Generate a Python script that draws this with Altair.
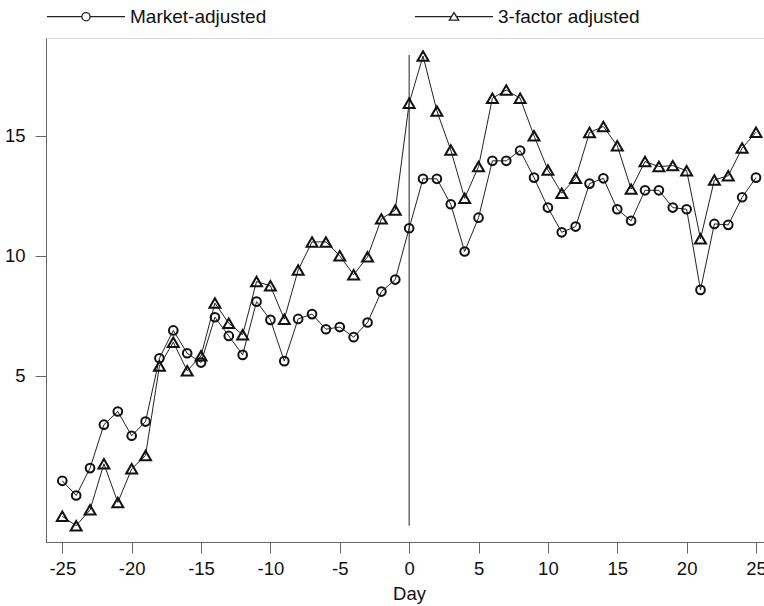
import altair as alt
import pandas as pd

days = list(range(-25, 26))
market_adjusted = [0.61, 0.0, 1.14, 2.95, 3.5, 2.49, 3.08, 5.72, 6.88, 5.93,
                   5.54, 7.43, 6.65, 5.86, 8.08, 7.32, 5.6, 7.36, 7.56, 6.93,
                   7.02, 6.6, 7.21, 8.5, 9.0,
                   11.14, 13.2, 13.2, 12.14, 10.17, 11.58, 13.95, 13.95, 14.38, 13.25,
                   12.0, 10.97, 11.21, 13.0, 13.22, 11.93, 11.45, 12.72, 12.72, 12.0,
                   11.93, 8.57, 11.32, 11.28, 12.43, 13.25]
three_factor = [-0.87, -1.26, -0.6, 1.32, -0.29, 1.11, 1.67, 5.4, 6.39, 5.2,
                5.82, 8.02, 7.18, 6.7, 8.92, 8.74, 7.35, 9.4, 10.57, 10.57,
                9.99, 9.2, 9.95, 11.53, 11.9,
                16.35, 18.32, 16.03, 14.4, 12.39, 13.71, 16.56, 16.9, 16.56, 15.0,
                13.57, 12.6, 13.22, 15.13, 15.38, 14.58, 12.77, 13.92, 13.71, 13.75,
                13.54, 10.7, 13.15, 13.33, 14.48, 15.14]
series_names = ["Market-adjusted", "3-factor adjusted"]
event_day = [0]
event_top = [18.36]
event_bottom = [-1.26]
x_ticks = [-25, -20, -15, -10, -5, 0, 5, 10, 15, 20, 25]
y_ticks = [5, 10, 15]

rows = []
for d, v in zip(days, market_adjusted):
    rows.append({"Day": d, "CAR": v, "Series": series_names[0]})
for d, v in zip(days, three_factor):
    rows.append({"Day": d, "CAR": v, "Series": series_names[1]})
df = pd.DataFrame(rows)
rule_df = pd.DataFrame({"Day": event_day, "top": event_top, "bottom": event_bottom})

FONT = "Liberation Sans, Arial, Helvetica, sans-serif"

xscale = alt.Scale(domain=[-26.175, 25.577], nice=False, zero=False)
yscale = alt.Scale(domain=[-1.94, 19.07], nice=False, zero=False)

xaxis = alt.Axis(values=x_ticks, tickSize=11, labelPadding=6, grid=False,
                 domainColor="#666666", tickColor="#666666", labelColor="#111111",
                 labelFont=FONT, labelFontSize=18.5, labelExpr="'' + datum.value",
                 title="Day", titleFont=FONT, titleFontSize=18.5, titleFontWeight="normal",
                 titleColor="#111111", titleX=363, titleY=42, titleAlign="center",
                 titleBaseline="top")
yaxis = alt.Axis(values=y_ticks, tickSize=11, labelPadding=10, grid=False,
                 domainColor="#666666", tickColor="#666666", labelColor="#111111",
                 labelFont=FONT, labelFontSize=18.5, title=None)

circle_path = ("M-1,0H-0.105M0.105,0H1"
               "M-0.105,0A0.105,0.105 0 1,0 0.105,0A0.105,0.105 0 1,0 -0.105,0Z")
tri_path = "M-1,0H-0.07M0.07,0H1M0,-0.105L0.12,0.09L-0.12,0.09Z"

legend = alt.Legend(
    title=None, orient="none", legendX=0, legendY=-61.3, direction="horizontal",
    symbolSize=6084, symbolStrokeWidth=1.3, symbolStrokeColor="#222222",
    symbolFillColor="transparent", symbolOpacity=1,
    labelFont=FONT, labelFontSize=19, labelColor="#111111", labelOffset=4,
    columnPadding=145, padding=0,
)

lines = alt.Chart(df).mark_line(color="#222222", strokeWidth=1).encode(
    x=alt.X("Day:Q", scale=xscale, axis=xaxis),
    y=alt.Y("CAR:Q", scale=yscale, axis=yaxis),
    detail="Series:N",
)

points = alt.Chart(df).mark_point(filled=False, color="#111111", strokeWidth=2, opacity=1).encode(
    x=alt.X("Day:Q", scale=xscale),
    y=alt.Y("CAR:Q", scale=yscale),
    shape=alt.Shape("Series:N", scale=alt.Scale(domain=series_names, range=["circle", "triangle-up"]),
                    legend=None),
    size=alt.Size("Series:N", scale=alt.Scale(domain=series_names, range=[75, 120]), legend=None),
)

# legend-only layer: invisible points whose legend symbol shows line + marker
legend_layer = alt.Chart(df).mark_point(filled=False, color="#222222", size=0).encode(
    x=alt.X("Day:Q", scale=xscale),
    y=alt.Y("CAR:Q", scale=yscale),
    shape=alt.Shape("Series:N", scale=alt.Scale(domain=series_names, range=[circle_path, tri_path]),
                    legend=legend),
)

rule = alt.Chart(rule_df).mark_rule(color="#222222", strokeWidth=1).encode(
    x=alt.X("Day:Q", scale=xscale),
    y=alt.Y("top:Q", scale=yscale),
    y2="bottom:Q",
)

chart = alt.layer(rule, lines, points, legend_layer).resolve_scale(
    shape="independent", size="independent"
).properties(
    width=718, height=504,
    autosize=alt.AutoSizeParams(type="none"),
    padding={"left": 46, "top": 38, "right": 0, "bottom": 64},
).configure_view(strokeWidth=0).configure(background="white")

chart.save("out.html", embed_options={"renderer": "svg", "actions": False})
